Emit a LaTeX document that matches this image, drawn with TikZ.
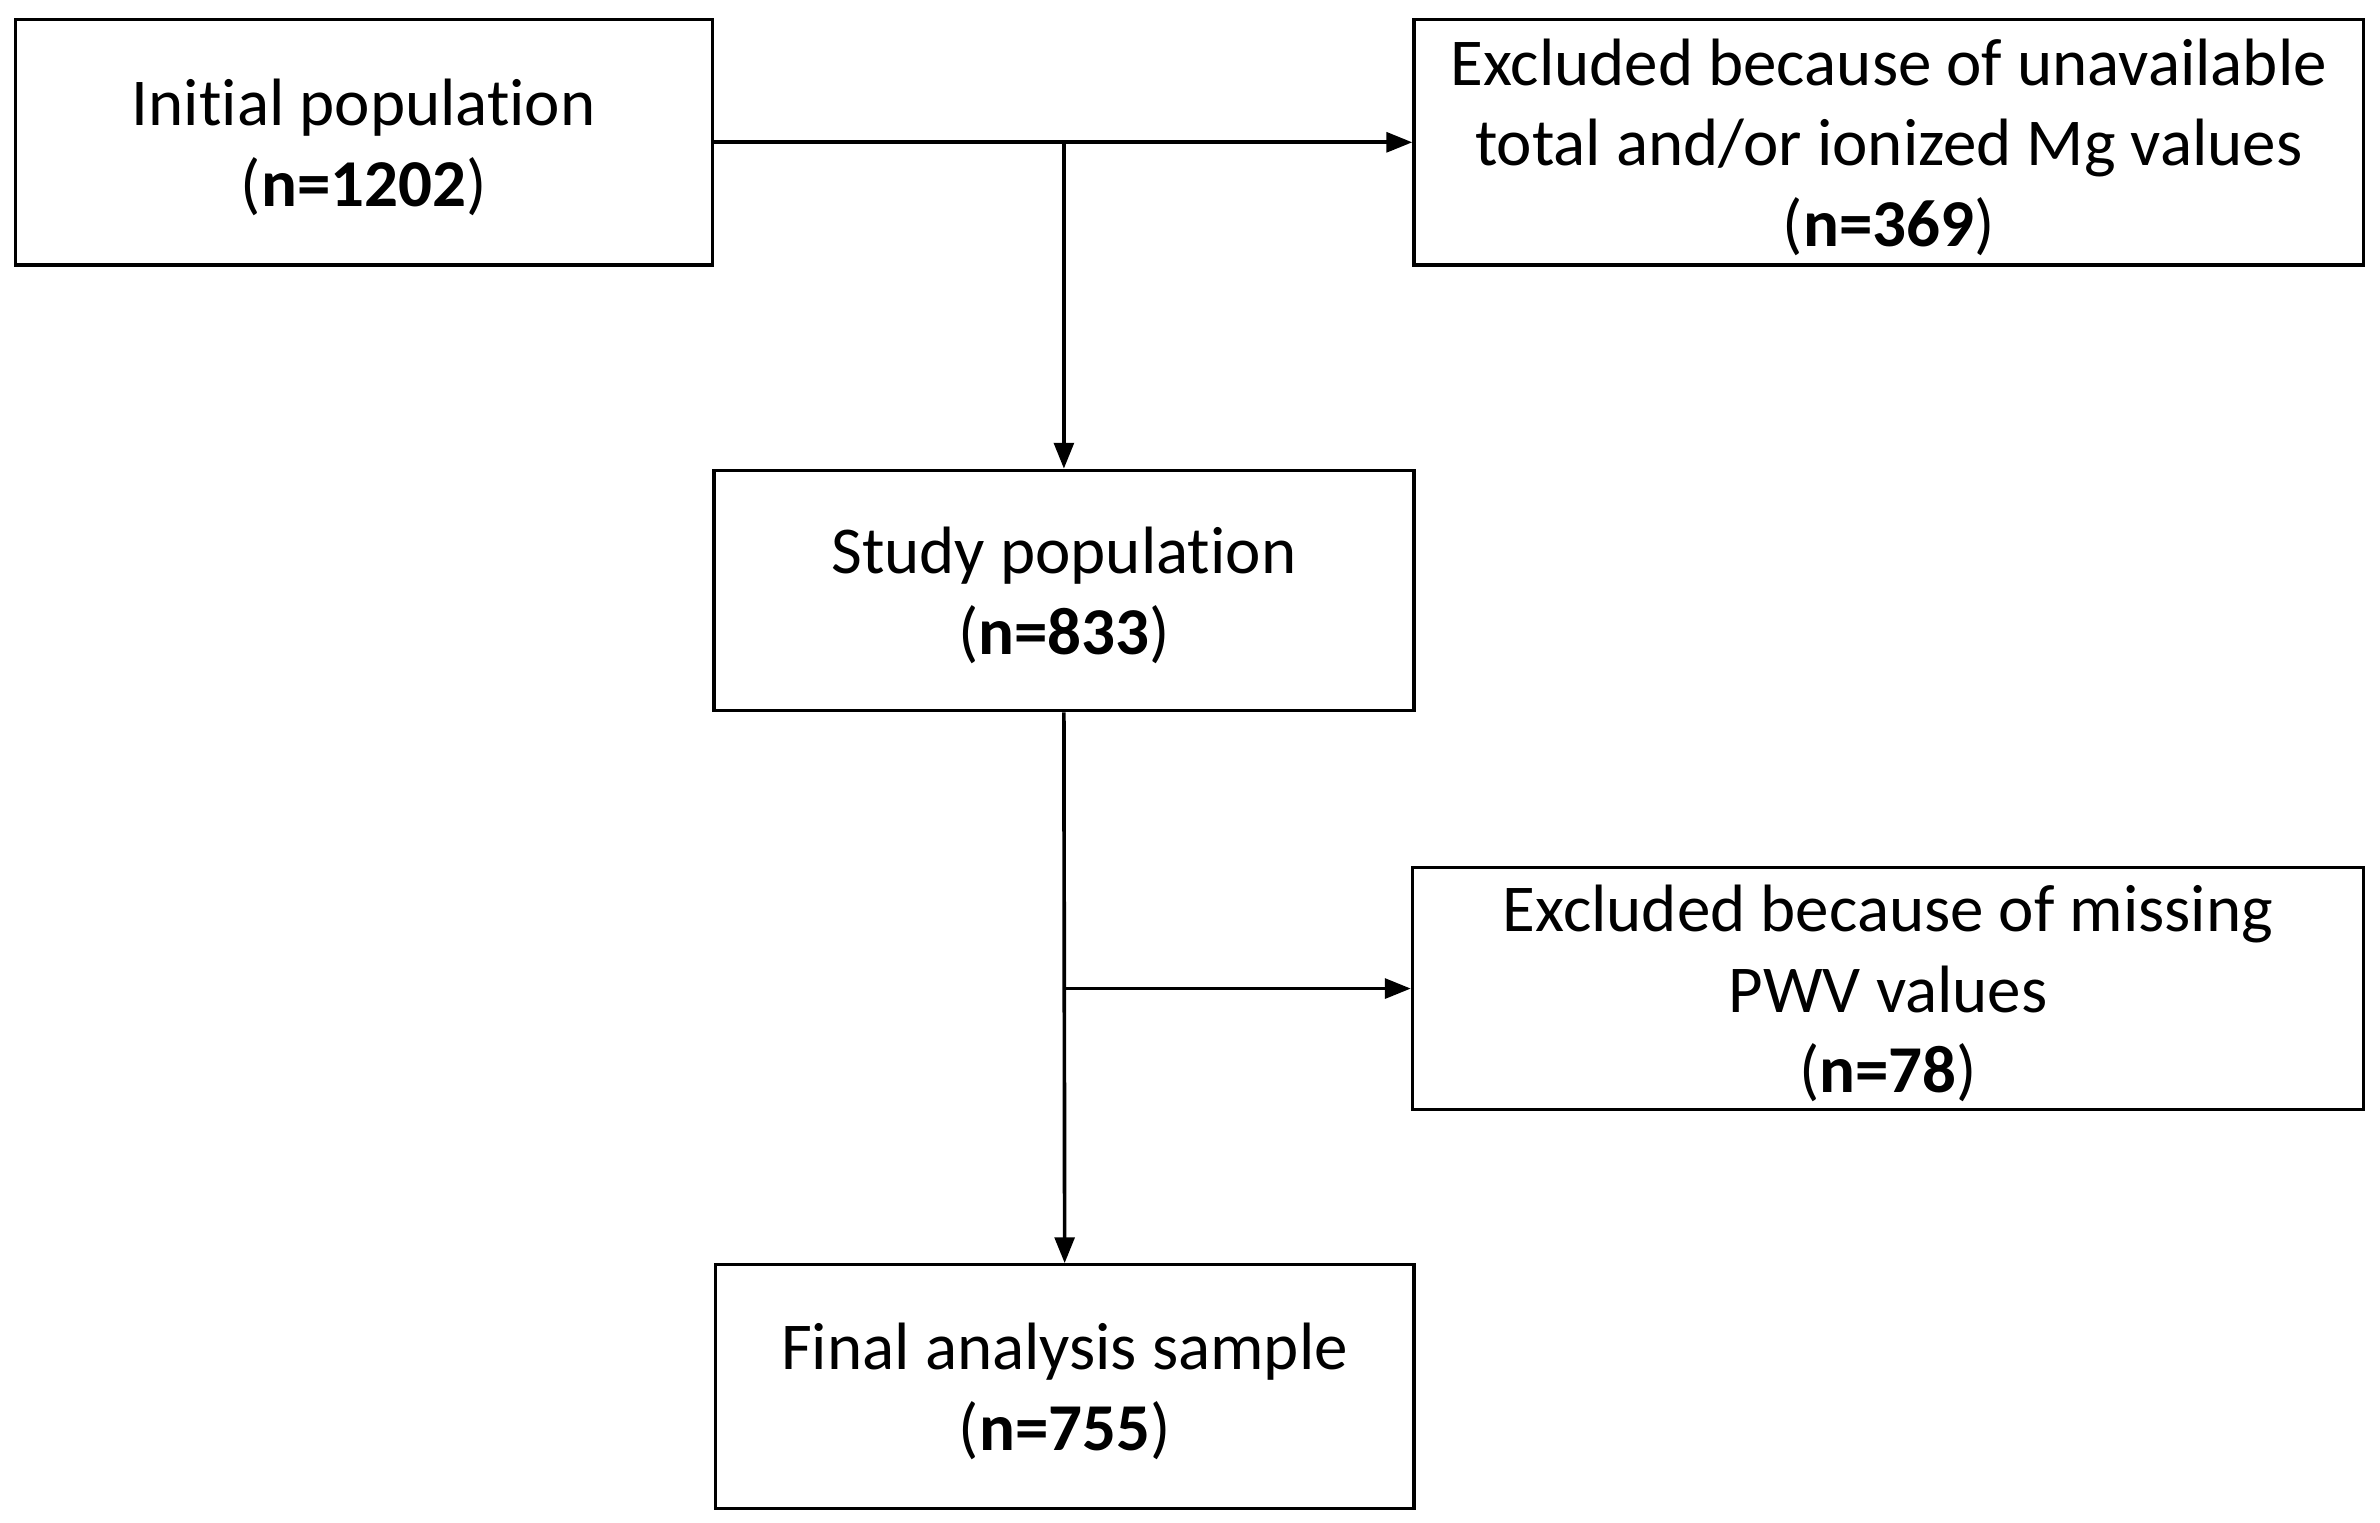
\documentclass[tikz,border=0pt]{standalone}
\usepackage{fontspec}
\setmainfont{Carlito}[Ligatures=NoCommon]
\usetikzlibrary{arrows.meta}
\newcommand{\toprule}{\rule{0pt}{37pt}}
\tikzset{
  box/.style={draw=black, line width=2.2pt, fill=white, inner sep=0pt, align=center,
    font=\fontsize{44}{53}\selectfont},
  arr/.style={draw=black, line width=2.4pt, -{Triangle[length=17pt,width=13pt]}}
}
\begin{document}
\begin{tikzpicture}[x=1pt,y=-1pt]
\useasboundingbox (0,0) rectangle (1563.7,1000);
\node[box, minimum width=458pt, minimum height=161pt] (init) at (239,93.5)
  {\toprule Initial population\\(\textbf{n=1202})};
\node[box, minimum width=624pt, minimum height=161pt] (ex1) at (1241,93.5)
  {\toprule Excluded because of unavailable\\total and/or ionized Mg values\\(\textbf{n=369})};
\node[box, minimum width=460pt, minimum height=158pt] (study) at (699,388)
  {\toprule Study population\\(\textbf{n=833})};
\node[box, minimum width=625pt, minimum height=159pt] (ex2) at (1240.5,649.5)
  {\toprule Excluded because of missing\\PWV values\\(\textbf{n=78})};
\node[box, minimum width=459pt, minimum height=160pt] (final) at (699.5,911)
  {\toprule Final analysis sample\\(\textbf{n=755})};
\coordinate (j1) at (study.north |- init.east);
\coordinate (j2) at (study.south |- ex2.west);
\draw[arr] (init.east) -- (ex1.west);
\draw[arr] (j1) -- (study.north);
\draw[arr] (study.south) -- (final.north);
\draw[arr] (j2) -- (ex2.west);
\end{tikzpicture}
\end{document}
